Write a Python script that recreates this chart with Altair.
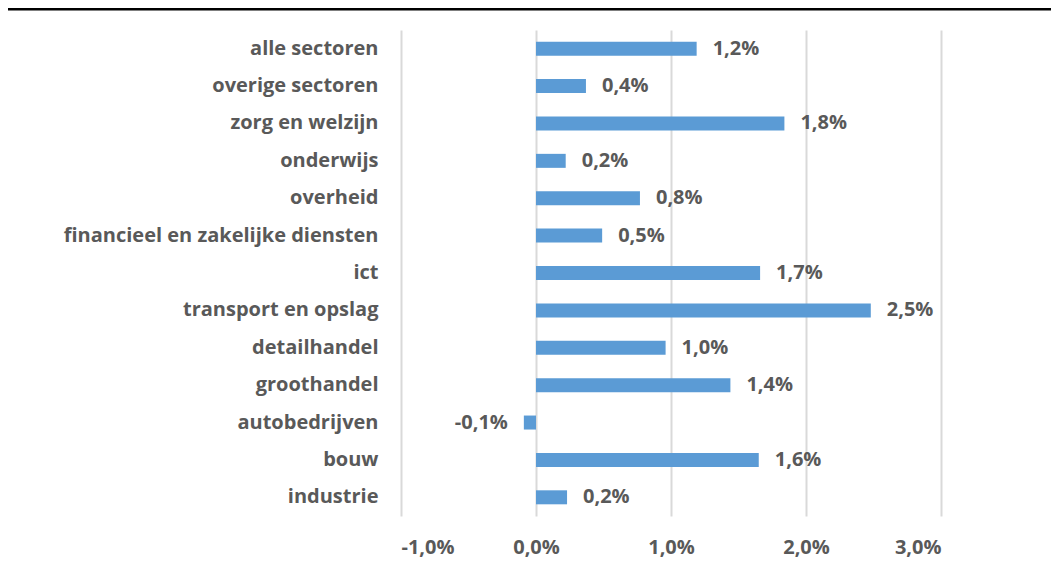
import altair as alt
import pandas as pd

categories = ["alle sectoren", "overige sectoren", "zorg en welzijn", "onderwijs", "overheid",
              "financieel en zakelijke diensten", "ict", "transport en opslag", "detailhandel",
              "groothandel", "autobedrijven", "bouw", "industrie"]
values = [1.19, 0.37, 1.84, 0.22, 0.77, 0.49, 1.66, 2.48, 0.96, 1.44, -0.09, 1.65, 0.23]
labels = ["1,2%", "0,4%", "1,8%", "0,2%", "0,8%", "0,5%", "1,7%", "2,5%", "1,0%", "1,4%", "-0,1%", "1,6%", "0,2%"]
x_ticks = [-1, 0, 1, 2, 3]

df = pd.DataFrame({"cat": categories, "val": values, "lab": labels})

FONT = "Open Sans"
FS = 20
GREY = "#595959"
W, H = 540, 486

xscale = alt.Scale(domain=[-1, 3], nice=False)
yenc = alt.Y("cat:N", sort=categories, title=None,
             scale=alt.Scale(paddingInner=0.62, paddingOuter=0.31),
             axis=alt.Axis(labelFont=FONT, labelFontSize=FS, labelFontWeight="bold",
                           labelColor=GREY, ticks=False, domain=False, labelPadding=23,
                           labelLimit=400))

bars = alt.Chart(df).mark_bar(color="#5B9BD5", size=14).encode(
    x=alt.X("val:Q", scale=xscale, title=None,
            axis=alt.Axis(values=x_ticks,
                          labelExpr="replace(replace(format(datum.value, '.1f'), '.', ','), '\u2212', '-') + '%'",
                          labelFont=FONT, labelFontSize=FS, labelFontWeight="bold",
                          labelColor=GREY, ticks=False, domain=False, labelPadding=21,
                          grid=True, gridColor="#d9d9d9", gridWidth=2)),
    y=yenc,
)

pos = alt.Chart(df).transform_filter("datum.val >= 0").mark_text(
    align="left", dx=16, font=FONT, fontSize=FS, fontWeight="bold", color=GREY
).encode(x=alt.X("val:Q", scale=xscale), y=alt.Y("cat:N", sort=categories), text="lab:N")

neg = alt.Chart(df).transform_filter("datum.val < 0").mark_text(
    align="right", dx=-16, font=FONT, fontSize=FS, fontWeight="bold", color=GREY
).encode(x=alt.X("val:Q", scale=xscale), y=alt.Y("cat:N", sort=categories), text="lab:N")

topline = alt.Chart(pd.DataFrame({"a": [0]})).mark_rule(color="black", strokeWidth=3).encode(
    x=alt.value(-396), x2=alt.value(W + 120), y=alt.value(-21))

chart = alt.layer(bars, pos, neg, topline).properties(
    width=W, height=H,
    autosize=alt.AutoSizeParams(type="none"),
    padding={"left": 393, "top": 22, "right": 110, "bottom": 54},
).configure_view(stroke=None)

chart.save("out.html", embed_options={"renderer": "svg", "actions": False})
